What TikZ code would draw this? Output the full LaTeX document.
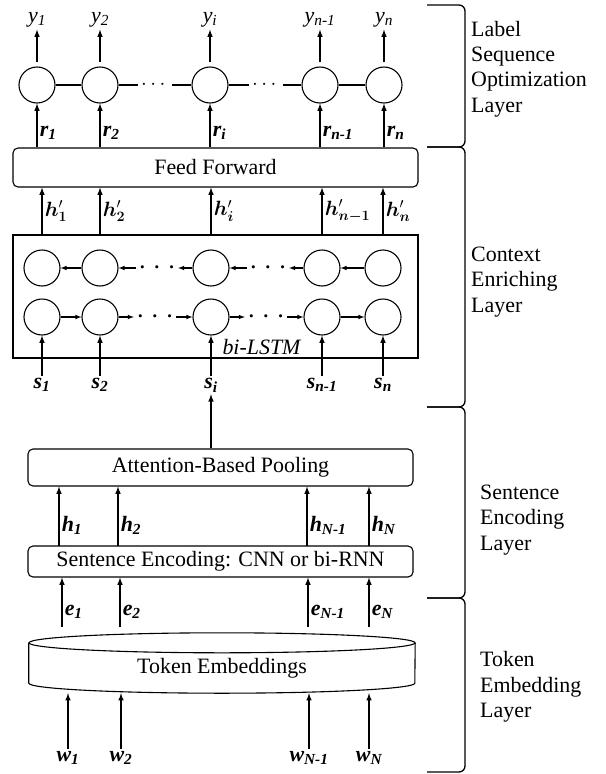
\documentclass[tikz,border=0pt]{standalone}
\usepackage{fontspec}
\setmainfont{Liberation Serif}
\usepackage{amsmath,bm}
\usetikzlibrary{positioning,arrows}

\newcommand{\blab}[2]{\textbf{\textit{#1\textsubscript{#2}}}}
\newcommand{\hlab}[1]{$\bm{h}'_{\bm{#1}}$}
\newcommand{\bdots}{$\bm{\cdot}\mkern3mu\bm{\cdot}\mkern3mu\bm{\cdot}$}

\begin{document}
\begin{tikzpicture}[x=1bp, y=-1bp, >=latex, font=\fontsize{22}{25}\selectfont,
	unit/.style={circle, draw, line width=1.1bp, minimum size=36bp, inner sep=0pt},
	layerbox/.style={draw, rounded corners=5bp, line width=1.1bp, inner sep=0pt},
	arr/.style={->, line width=1.5bp},
	harr/.style={->, line width=1.1bp},
	lab/.style={inner sep=2bp},
	dotsnode/.style={inner sep=3bp},
	bracket/.style={line width=1.3bp, rounded corners=6bp},
	layername/.style={align=left, anchor=west, inner sep=0pt, font=\fontsize{22}{25.5}\selectfont}]
\useasboundingbox (0,0) rectangle (606,774);

% label sequence optimization
\node[unit]		(c1)	at (37,85)	{};
\node[unit]		(c2)	at (100,85)	{};
\node[dotsnode]	(cd1)	at (155,85)	{$\cdots$};
\node[unit]		(ci)	at (210,85)	{};
\node[dotsnode]	(cd2)	at (266,85)	{$\cdots$};
\node[unit]		(cn1)	at (320,85)	{};
\node[unit]		(cn)	at (384,85)	{};
\draw[line width=1.1bp] (c1) -- (c2) -- (cd1) -- (ci) -- (cd2) -- (cn1) -- (cn);
\node[lab] (y1)  at (37,20)  {\textit{y\textsubscript{1}}};
\node[lab] (y2)  at (100,20) {\textit{y\textsubscript{2}}};
\node[lab] (yi)  at (210,20) {\textit{y\textsubscript{i}}};
\node[lab] (yn1) at (320,20) {\textit{y\textsubscript{n-1}}};
\node[lab] (yn)  at (384,20) {\textit{y\textsubscript{n}}};
\path[arr, shorten <=4bp] (c1) edge (y1) (c2) edge (y2) (ci) edge (yi) (cn1) edge (yn1) (cn) edge (yn);

\node[layerbox, minimum width=405bp, minimum height=39bp] (ff) at (215.5,167.5) {Feed Forward};
\draw[arr] (ff.north -| c1)  -- (c1)  node[lab, pos=0.33, right] {\blab{r}{1}};
\draw[arr] (ff.north -| c2)  -- (c2)  node[lab, pos=0.33, right] {\blab{r}{2}};
\draw[arr] (ff.north -| ci)  -- (ci)  node[lab, pos=0.33, right] {\blab{r}{i}};
\draw[arr] (ff.north -| cn1) -- (cn1) node[lab, pos=0.33, right] {\blab{r}{n-1}};
\draw[arr] (ff.north -| cn)  -- (cn)  node[lab, pos=0.33, right] {\blab{r}{n}};

% context enriching
\node[draw, line width=1.1bp, minimum width=405bp, minimum height=123bp] (lstm) at (215.5,296.5) {};
\node[unit]		(b1)	at (42,268)		{};
\node[unit]		(b2)	at (100,268)	{};
\node[dotsnode]	(bd1)	at (157,268)	{\bdots};
\node[unit]		(bi)	at (211,268)	{};
\node[dotsnode]	(bd2)	at (268,268)	{\bdots};
\node[unit]		(bn1)	at (322,268)	{};
\node[unit]		(bn)	at (383,268)	{};
\node[unit]		(f1)	at (42,317)		{};
\node[unit]		(f2)	at (100,317)	{};
\node[dotsnode]	(fd1)	at (155,317)	{\bdots};
\node[unit]		(fi)	at (211,317)	{};
\node[dotsnode]	(fd2)	at (266,317)	{\bdots};
\node[unit]		(fn1)	at (322,317)	{};
\node[unit]		(fn)	at (383,317)	{};
\path[harr]	(b2) edge (b1)	(bd1) edge (b2)	(bi) edge (bd1)	(bd2) edge (bi)	(bn1) edge (bd2)	(bn) edge (bn1)
			(f1) edge (f2)	(f2) edge (fd1)	(fd1) edge (fi)	(fi) edge (fd2)	(fd2) edge (fn1)	(fn1) edge (fn);
\node at (262,347) {\textit{bi-LSTM}};
\draw[arr] (lstm.north -| b1)  -- (ff.south -| b1)  node[lab, midway, right] {\hlab{1}};
\draw[arr] (lstm.north -| b2)  -- (ff.south -| b2)  node[lab, midway, right] {\hlab{2}};
\draw[arr] (lstm.north -| bi)  -- (ff.south -| bi)  node[lab, midway, right] {\hlab{i}};
\draw[arr] (lstm.north -| bn1) -- (ff.south -| bn1) node[lab, midway, right] {\hlab{n-1}};
\draw[arr] (lstm.north -| bn)  -- (ff.south -| bn)  node[lab, midway, right] {\hlab{n}};
\node[lab, anchor=north] (s1)  at (42,376)  {\blab{s}{1}};
\node[lab, anchor=north] (s2)  at (100,376) {\blab{s}{2}};
\node[lab, anchor=north] (si)  at (211,376) {\blab{s}{i}};
\node[lab, anchor=north] (sn1) at (322,376) {\blab{s}{n-1}};
\node[lab, anchor=north] (sn)  at (383,376) {\blab{s}{n}};
\path[arr] (s1) edge (f1) (s2) edge (f2) (si) edge (fi) (sn1) edge (fn1) (sn) edge (fn);

% sentence encoding
\node[layerbox, minimum width=385bp, minimum height=37bp] (att) at (220.5,467.5) {Attention-Based Pooling};
\draw[arr] (att.north -| si) -- (si);
\node[layerbox, minimum width=385bp, minimum height=31bp] (sent) at (220.5,561.5) {Sentence Encoding: CNN or bi-RNN};
\coordinate (h1)  at (59,546);
\coordinate (h2)  at (118,546);
\coordinate (hN1) at (307,546);
\coordinate (hN)  at (369,546);
\draw[arr] (h1)  -- (h1 |- att.south)  node[lab, pos=0.35, right] {\blab{h}{1}};
\draw[arr] (h2)  -- (h2 |- att.south)  node[lab, pos=0.35, right] {\blab{h}{2}};
\draw[arr] (hN1) -- (hN1 |- att.south) node[lab, pos=0.35, right] {\blab{h}{N-1}};
\draw[arr] (hN)  -- (hN |- att.south)  node[lab, pos=0.35, right] {\blab{h}{N}};

% token embedding
\node[minimum width=386bp, minimum height=50bp, inner sep=0pt] (emb) at (222,668) {Token Embeddings};
\draw[line width=1.1bp] (emb.north) ellipse [x radius=193bp, y radius=10bp];
\draw[line width=1.1bp] (emb.north west) -- ([yshift=10bp]emb.south west)
	arc[start angle=180, end angle=360, x radius=193bp, y radius=10bp] -- (emb.north east);
\coordinate (e1)  at (62,627);
\coordinate (e2)  at (120,627);
\coordinate (eN1) at (308,627);
\coordinate (eN)  at (369,627);
\draw[arr] (e1)  -- (e1 |- sent.south)  node[lab, pos=0.3, right] {\blab{e}{1}};
\draw[arr] (e2)  -- (e2 |- sent.south)  node[lab, pos=0.3, right] {\blab{e}{2}};
\draw[arr] (eN1) -- (eN1 |- sent.south) node[lab, pos=0.3, right] {\blab{e}{N-1}};
\draw[arr] (eN)  -- (eN |- sent.south)  node[lab, pos=0.3, right] {\blab{e}{N}};
\node[lab] (w1)  at (68,758)  {\blab{w}{1}};
\node[lab] (w2)  at (121,758) {\blab{w}{2}};
\node[lab] (wN1) at (309,758) {\blab{w}{N-1}};
\node[lab] (wN)  at (369,758) {\blab{w}{N}};
\draw[arr] (w1)  -- (w1 |- emb.south);
\draw[arr] (w2)  -- (w2 |- emb.south);
\draw[arr] (wN1) -- (wN1 |- emb.south);
\draw[arr] (wN)  -- (wN |- emb.south);

% layer brackets
\draw[bracket] (427,5)   -- (465,5)   -- (465,147) -- (427,147);
\draw[bracket] (427,147) -- (465,147) -- (465,407) -- (427,407);
\draw[bracket] (427,407) -- (465,407) -- (465,598) -- (427,598);
\draw[bracket] (427,598) -- (465,598) -- (465,772) -- (427,772);
\node[layername] (lso) at (471,69)  {Label\\Sequence\\Optimization\\Layer};
\node[layername] (cel) at (471,282) {Context\\Enriching\\Layer};
\node[layername] (sel) at (480,520) {Sentence\\Encoding\\Layer};
\node[layername] (tel) at (480,687) {Token\\Embedding\\Layer};
\end{tikzpicture}
\end{document}
